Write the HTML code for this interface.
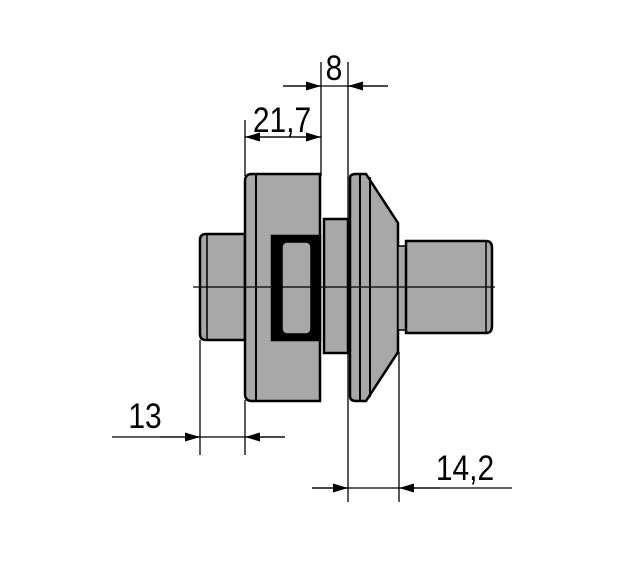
<!DOCTYPE html>
<html><head><style>body{margin:0;background:#fff}svg{display:block}</style></head><body>
<svg width="625" height="564" viewBox="0 0 625 564" xmlns="http://www.w3.org/2000/svg">
<defs>
<marker id="a" viewBox="0 0 10 6" refX="10" refY="3" markerWidth="26" markerHeight="9" markerUnits="userSpaceOnUse" orient="auto"><path d="M0,0 L10,3 L0,6 z" fill="#000"/></marker>
</defs>
<g fill="#a8a8a8" stroke="#000" stroke-width="2.5">
<path d="M206,234 L245,234 L245,340 L206,340 Q200,340 200,334 L200,240 Q200,234 206,234 Z"/>
<path d="M252,174 L320,174 L320,401 L252,401 Q245,401 245,394 L245,181 Q245,174 252,174 Z"/>
<line x1="256" y1="175" x2="256" y2="400" stroke-width="2"/>
<rect x="272" y="236" width="48" height="104" fill="#000"/>
<rect x="282" y="242" width="29" height="92" rx="5" fill="#a8a8a8" stroke-width="1.5"/>
<rect x="324" y="219" width="24" height="134"/>
<path d="M350,178 Q350,174 356,174 L366,174 L398,223 L398,352 L366,401 L356,401 Q350,401 350,396 Z"/>
<line x1="360" y1="175" x2="360" y2="400" stroke-width="2"/>
<line x1="370" y1="177" x2="370" y2="397" stroke-width="2"/>
<rect x="398" y="246" width="8" height="84" stroke-width="1.5"/>
<path d="M406,241 L486,241 Q492,241 492,248 L492,326 Q492,333 486,333 L406,333 Z"/>
<line x1="207" y1="235" x2="207" y2="339" stroke-width="1.5"/>
<line x1="486" y1="242" x2="486" y2="332" stroke-width="1.5"/>
</g>
<g stroke="#000" stroke-width="1.3" fill="none">
<line x1="193" y1="287" x2="495" y2="287"/>
<line x1="245" y1="120" x2="245" y2="176"/>
<line x1="321" y1="62" x2="321" y2="176"/>
<line x1="348" y1="62" x2="348" y2="502"/>
<line x1="200" y1="340" x2="200" y2="455"/>
<line x1="245" y1="400" x2="245" y2="455"/>
<line x1="399" y1="352" x2="399" y2="502"/>
<line x1="283" y1="86" x2="388" y2="86"/>
<line x1="283" y1="86" x2="321" y2="86" marker-end="url(#a)"/>
<line x1="388" y1="86" x2="348" y2="86" marker-end="url(#a)"/>
<line x1="245" y1="137" x2="321" y2="137"/>
<line x1="283" y1="137" x2="245" y2="137" marker-end="url(#a)"/>
<line x1="283" y1="137" x2="321" y2="137" marker-end="url(#a)"/>
<line x1="112" y1="437" x2="285" y2="437"/>
<line x1="160" y1="437" x2="200" y2="437" marker-end="url(#a)"/>
<line x1="285" y1="437" x2="245" y2="437" marker-end="url(#a)"/>
<line x1="312" y1="488" x2="512" y2="488"/>
<line x1="312" y1="488" x2="348" y2="488" marker-end="url(#a)"/>
<line x1="440" y1="488" x2="399" y2="488" marker-end="url(#a)"/>
</g>
<g font-family="Liberation Sans, sans-serif" font-size="30" fill="#000">
<text transform="translate(334,80) scale(1,1.17)" text-anchor="middle">8</text>
<text transform="translate(282,132) scale(1,1.17)" text-anchor="middle">21,7</text>
<text transform="translate(145,428) scale(1,1.17)" text-anchor="middle">13</text>
<text transform="translate(465,480) scale(1,1.17)" text-anchor="middle">14,2</text>
</g>
</svg>
</body></html>
